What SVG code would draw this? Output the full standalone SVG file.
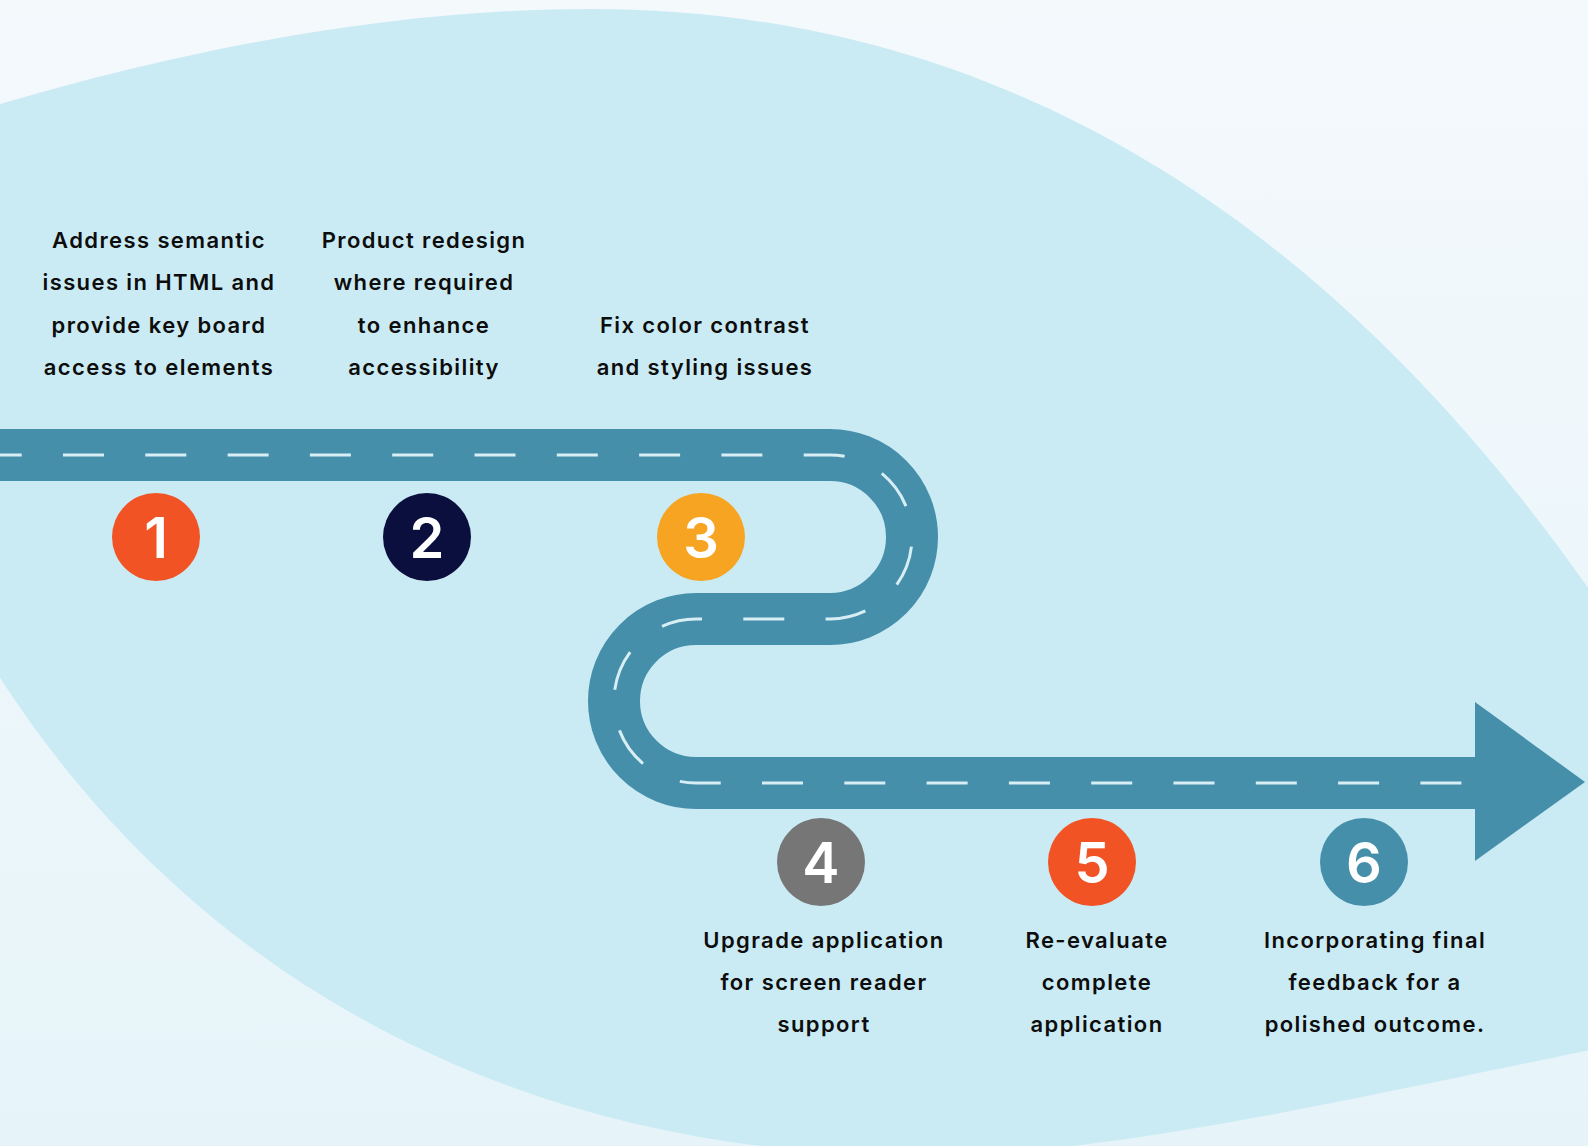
<svg xmlns="http://www.w3.org/2000/svg" width="1588" height="1146" viewBox="0 0 1588 1146">
  <defs>
    <linearGradient id="bg" x1="0" y1="0" x2="0" y2="1">
      <stop offset="0" stop-color="#f4f9fc"/>
      <stop offset="1" stop-color="#e6f4f9"/>
    </linearGradient>
    <style>
      .lbl { font-family: "Inter", "Liberation Sans", sans-serif; font-weight: 600; font-size: 22px; letter-spacing: 1.4px; fill: #0d0d0d; text-anchor: middle; }
      .num { font-family: "Inter", "Liberation Sans", sans-serif; font-weight: 600; font-size: 56px; fill: #ffffff; text-anchor: middle; }
      .road { fill: none; stroke: #468fab; stroke-width: 52; }
      .dash { fill: none; stroke: #d8eef5; stroke-width: 3; stroke-dasharray: 41 41.3; stroke-dashoffset: -0.7; }
    </style>
  </defs>

  <rect x="0" y="0" width="1588" height="1146" fill="url(#bg)"/>
  <path id="blob" fill="#cbebf4" d="M -10 107 C 200 45, 400 9, 590 9 C 950 9, 1300 170, 1600 605 L 1600 1048 C 1300 1110, 1100 1155, 930 1155 C 550 1160, 200 1000, -10 662 Z"/>

  <g id="connectors">
    <path class="road" d="M -20 455 H 830 A 82 82 0 0 1 830 619 H 696 A 82 82 0 0 0 696 783 H 1480"/>
    <polygon fill="#468fab" points="1475,702 1585,782 1475,861"/>
    <path class="dash" d="M -20 455 H 830 A 82 82 0 0 1 830 619 H 696 A 82 82 0 0 0 696 783 H 1468"/>
  </g>

  <g id="step1">
    <circle cx="156" cy="537" r="44" fill="#f15325"/>
    <text class="num" x="156" y="558">1</text>
    <text class="lbl" x="159" y="247.5">Address semantic</text>
    <text class="lbl" x="159" y="290">issues in HTML and</text>
    <text class="lbl" x="159" y="332.5">provide key board</text>
    <text class="lbl" x="159" y="375">access to elements</text>
  </g>

  <g id="step2">
    <circle cx="427" cy="537" r="44" fill="#0b0f3d"/>
    <text class="num" x="427" y="558">2</text>
    <text class="lbl" x="424" y="247.5">Product redesign</text>
    <text class="lbl" x="424" y="290">where required</text>
    <text class="lbl" x="424" y="332.5">to enhance</text>
    <text class="lbl" x="424" y="375">accessibility</text>
  </g>

  <g id="step3">
    <circle cx="701" cy="537" r="44" fill="#f6a422"/>
    <text class="num" x="701" y="558">3</text>
    <text class="lbl" x="705" y="332.5">Fix color contrast</text>
    <text class="lbl" x="705" y="375">and styling issues</text>
  </g>

  <g id="step4">
    <circle cx="821" cy="862" r="44" fill="#767676"/>
    <text class="num" x="821" y="883">4</text>
    <text class="lbl" x="824" y="948">Upgrade application</text>
    <text class="lbl" x="824" y="990">for screen reader</text>
    <text class="lbl" x="824" y="1032">support</text>
  </g>

  <g id="step5">
    <circle cx="1092" cy="862" r="44" fill="#f15325"/>
    <text class="num" x="1092" y="883">5</text>
    <text class="lbl" x="1097" y="948">Re-evaluate</text>
    <text class="lbl" x="1097" y="990">complete</text>
    <text class="lbl" x="1097" y="1032">application</text>
  </g>

  <g id="step6">
    <circle cx="1364" cy="862" r="44" fill="#468fab"/>
    <text class="num" x="1364" y="883">6</text>
    <text class="lbl" x="1375" y="948">Incorporating final</text>
    <text class="lbl" x="1375" y="990">feedback for a</text>
    <text class="lbl" x="1375" y="1032">polished outcome.</text>
  </g>
</svg>
